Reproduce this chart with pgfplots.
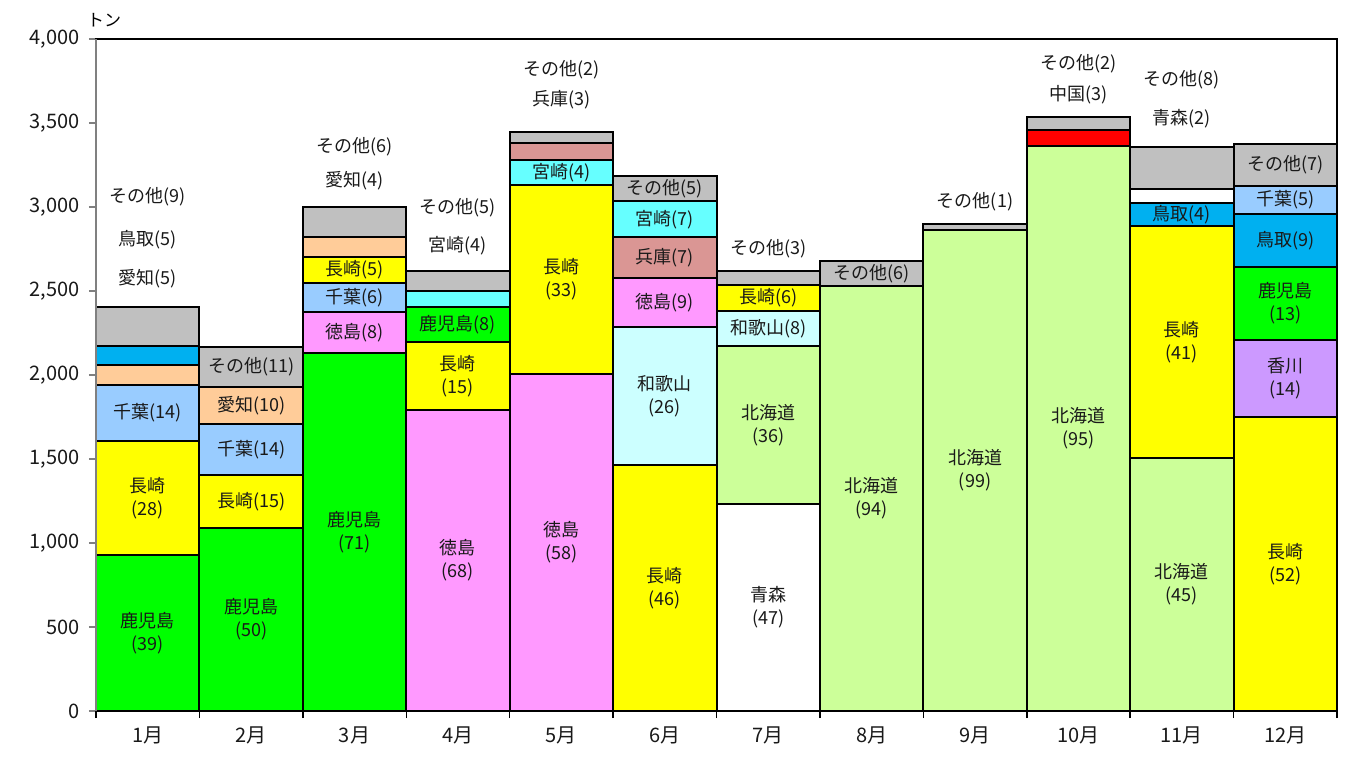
\documentclass[border=0pt]{standalone}
\usepackage{fontspec}
\setmainfont{Noto Sans CJK JP}
\usepackage{pgfplots}
\pgfplotsset{compat=1.18}
\definecolor{cGreen}{HTML}{00FF00}
\definecolor{cYellow}{HTML}{FFFF00}
\definecolor{cLtBlue}{HTML}{99CCFF}
\definecolor{cPeach}{HTML}{FFCC99}
\definecolor{cBlue}{HTML}{00B0F0}
\definecolor{cGray}{HTML}{C0C0C0}
\definecolor{cPink}{HTML}{FF99FF}
\definecolor{cCyan}{HTML}{66FFFF}
\definecolor{cRose}{HTML}{DA9694}
\definecolor{cLtCyan}{HTML}{CCFFFF}
\definecolor{cLtGreen}{HTML}{CCFF99}
\definecolor{cRed}{HTML}{FF0000}
\definecolor{cPurple}{HTML}{CC99FF}
% one segment: month, cumulative top, colour
\newcommand{\seg}[3]{\addplot[draw=black, line width=2pt, fill=#3] coordinates {(#1,#2)};}
\newcommand{\lab}[3]{\node[font=\fontsize{18}{23}\selectfont, align=center, text=black!90] at (axis cs:#1,#2) {#3};}
\begin{document}
\begin{tikzpicture}[x=1pt,y=1pt]
\useasboundingbox (0,0) rectangle (1350,756);
\begin{axis}[
  at={(96pt,45pt)}, anchor=south west,
  scale only axis, width=1241pt, height=672pt,
  xmin=0.5, xmax=12.5, ymin=0, ymax=4000,
  ybar, bar width=1, bar shift=0pt,
  xtick={1,...,12},
  xticklabels={1月,2月,3月,4月,5月,6月,7月,8月,9月,10月,11月,12月},
  major x tick style={draw=none},
  minor xtick={0.5,1.5,...,12.5},
  minor x tick style={black, line width=1.5pt},
  minor tick length=7pt,
  ytick={0,500,...,4000},
  major tick length=7pt,
  y tick style={gray, line width=1.2pt},
  tick align=outside,
  xtick pos=left, ytick pos=left,
  axis line style={black, line width=1.5pt},
  tick label style={font=\fontsize{20}{20}\selectfont, text=black!90},
  xticklabel style={yshift=-5pt},
  yticklabel style={xshift=-6pt},
  scaled y ticks=false,
  /pgf/number format/1000 sep={,},
  /pgf/number format/assume math mode=true,
  clip=false,
]
% 1月
\seg{1}{2406}{cGray}\seg{1}{2172}{cBlue}\seg{1}{2061}{cPeach}\seg{1}{1940}{cLtBlue}\seg{1}{1606}{cYellow}\seg{1}{927}{cGreen}
% 2月
\seg{2}{2168}{cGray}\seg{2}{1930}{cPeach}\seg{2}{1708}{cLtBlue}\seg{2}{1404}{cYellow}\seg{2}{1088}{cGreen}
% 3月
\seg{3}{3000}{cGray}\seg{3}{2823}{cPeach}\seg{3}{2702}{cYellow}\seg{3}{2546}{cLtBlue}\seg{3}{2373}{cPink}\seg{3}{2132}{cGreen}
% 4月
\seg{4}{2621}{cGray}\seg{4}{2500}{cCyan}\seg{4}{2402}{cGreen}\seg{4}{2198}{cYellow}\seg{4}{1791}{cPink}
% 5月
\seg{5}{3447}{cGray}\seg{5}{3381}{cRose}\seg{5}{3280}{cCyan}\seg{5}{3131}{cYellow}\seg{5}{2005}{cPink}
% 6月
\seg{6}{3186}{cGray}\seg{6}{3034}{cCyan}\seg{6}{2821}{cRose}\seg{6}{2575}{cPink}\seg{6}{2285}{cLtCyan}\seg{6}{1463}{cYellow}
% 7月
\seg{7}{2621}{cGray}\seg{7}{2535}{cYellow}\seg{7}{2381}{cLtCyan}\seg{7}{2172}{cLtGreen}\seg{7}{1231}{white}
% 8月
\seg{8}{2678}{cGray}\seg{8}{2531}{cLtGreen}
% 9月
\seg{9}{2899}{cGray}\seg{9}{2865}{cLtGreen}
% 10月
\seg{10}{3536}{cGray}\seg{10}{3460}{cRed}\seg{10}{3365}{cLtGreen}
% 11月
\seg{11}{3359}{cGray}\seg{11}{3109}{white}\seg{11}{3026}{cBlue}\seg{11}{2887}{cYellow}\seg{11}{1505}{cLtGreen}
% 12月
\seg{12}{3375}{cGray}\seg{12}{3125}{cLtBlue}\seg{12}{2957}{cBlue}\seg{12}{2643}{cGreen}\seg{12}{2208}{cPurple}\seg{12}{1749}{cYellow}

% labels
\lab{1}{463}{鹿児島\\(39)}\lab{1}{1266}{長崎\\(28)}\lab{1}{1773}{千葉(14)}
\lab{1}{2571}{愛知(5)}\lab{1}{2803}{鳥取(5)}\lab{1}{3059}{その他(9)}
\lab{2}{544}{鹿児島\\(50)}\lab{2}{1246}{長崎(15)}\lab{2}{1556}{千葉(14)}\lab{2}{1819}{愛知(10)}\lab{2}{2049}{その他(11)}
\lab{3}{1066}{鹿児島\\(71)}\lab{3}{2252}{徳島(8)}\lab{3}{2460}{千葉(6)}\lab{3}{2624}{長崎(5)}
\lab{3}{3155}{愛知(4)}\lab{3}{3357}{その他(6)}
\lab{4}{896}{徳島\\(68)}\lab{4}{1994}{長崎\\(15)}\lab{4}{2300}{鹿児島(8)}
\lab{4}{2767}{宮崎(4)}\lab{4}{2993}{その他(5)}
\lab{5}{1002}{徳島\\(58)}\lab{5}{2568}{長崎\\(33)}\lab{5}{3205}{宮崎(4)}
\lab{5}{3637}{兵庫(3)}\lab{5}{3818}{その他(2)}
\lab{6}{731}{長崎\\(46)}\lab{6}{1874}{和歌山\\(26)}\lab{6}{2430}{徳島(9)}\lab{6}{2698}{兵庫(7)}\lab{6}{2927}{宮崎(7)}\lab{6}{3110}{その他(5)}
\lab{7}{615}{青森\\(47)}\lab{7}{1701}{北海道\\(36)}\lab{7}{2276}{和歌山(8)}\lab{7}{2458}{長崎(6)}
\lab{7}{2753}{その他(3)}
\lab{8}{1265}{北海道\\(94)}\lab{8}{2604}{その他(6)}
\lab{9}{1432}{北海道\\(99)}\lab{9}{3029}{その他(1)}
\lab{10}{1682}{北海道\\(95)}\lab{10}{3666}{中国(3)}\lab{10}{3852}{その他(2)}
\lab{11}{752}{北海道\\(45)}\lab{11}{2196}{長崎\\(41)}\lab{11}{2956}{鳥取(4)}
\lab{11}{3524}{青森(2)}\lab{11}{3755}{その他(8)}
\lab{12}{875}{長崎\\(52)}\lab{12}{1979}{香川\\(14)}\lab{12}{2426}{鹿児島\\(13)}\lab{12}{2800}{鳥取(9)}\lab{12}{3041}{千葉(5)}\lab{12}{3250}{その他(7)}

\draw[gray, line width=1.5pt] (rel axis cs:0,0) -- (rel axis cs:0,1);
\node[anchor=base west, font=\fontsize{17}{17}\selectfont, inner sep=0pt] at ([xshift=-9pt,yshift=12pt]rel axis cs:0,1) {トン};
\end{axis}
\end{tikzpicture}
\end{document}
